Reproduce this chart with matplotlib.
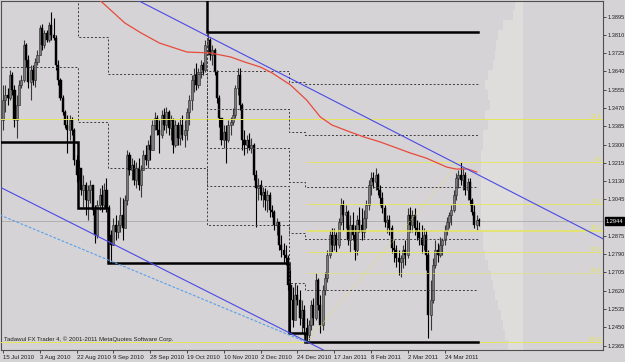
import matplotlib
matplotlib.use("Agg")
import matplotlib.pyplot as plt
import numpy as np
from matplotlib.transforms import blended_transform_factory

# ---------------- data (daily bars, price) ----------------
opens = [1.3414,1.3507,1.3530,1.3516,1.3623,1.3554,1.3414,1.3484,1.3577,1.3600,
         1.3763,1.3693,1.3591,1.3647,1.3600,1.3684,1.3716,1.3842,1.3763,1.3819,
         1.3786,1.3856,1.3809,1.3795,1.3670,1.3600,1.3516,1.3451,1.3391,1.3368,
         1.3414,1.3368,1.3228,1.3158,1.3191,1.3089,1.3112,1.3042,1.3089,1.3112,
         1.2996,1.2879,1.3019,1.3065,1.3019,1.3089,1.3005,1.2879,1.2833,1.2926,
         1.2893,1.2926,1.2972,1.2912,1.3042,1.3251,1.3182,1.3205,1.3135,1.3191,
         1.3112,1.3182,1.3251,1.3228,1.3298,1.3275,1.3391,1.3423,1.3368,1.3344,
         1.3437,1.3391,1.3451,1.3377,1.3414,1.3298,1.3391,1.3330,1.3391,1.3344,
         1.3368,1.3451,1.3507,1.3600,1.3623,1.3577,1.3637,1.3670,1.3647,1.3763,
         1.3786,1.3716,1.3740,1.3637,1.3516,1.3423,1.3321,1.3358,1.3321,1.3391,
         1.3405,1.3437,1.3563,1.3623,1.3484,1.3321,1.3298,1.3321,1.3284,1.3298,
         1.3158,1.3098,1.3112,1.3065,1.3079,1.3042,1.3065,1.2996,1.2986,1.2926,
         1.2940,1.2833,1.2810,1.2786,1.2772,1.2647,1.2577,1.2484,1.2600,1.2577,
         1.2493,1.2531,1.2447,1.2414,1.2461,1.2554,1.2493,1.2670,1.2554,1.2461,
         1.2624,1.2679,1.2786,1.2879,1.2833,1.2879,1.2833,1.2940,1.3019,1.2972,
         1.2986,1.2856,1.2926,1.2879,1.2810,1.2949,1.2926,1.2893,1.2958,1.3019,
         1.3112,1.3144,1.3126,1.3158,1.3089,1.3051,1.3005,1.2940,1.2949,1.2912,
         1.2819,1.2810,1.2772,1.2754,1.2772,1.2810,1.2786,1.2972,1.2926,1.2972,
         1.2912,1.2893,1.2865,1.2833,1.2879,1.2786,1.2507,1.2577,1.2740,1.2810,
         1.2786,1.2833,1.2856,1.2903,1.2940,1.2972,1.2996,1.3065,1.3144,1.3158,
         1.3135,1.3158,1.3089,1.3126,1.3042,1.2986,1.2926,1.2949]
highs = [1.3577,1.3577,1.3563,1.3647,1.3637,1.3577,1.3530,1.3600,1.3623,1.3786,
         1.3772,1.3716,1.3670,1.3670,1.3702,1.3740,1.3856,1.3860,1.3832,1.3832,
         1.3870,1.3916,1.3888,1.3809,1.3693,1.3609,1.3530,1.3461,1.3437,1.3437,
         1.3428,1.3377,1.3251,1.3228,1.3191,1.3158,1.3126,1.3112,1.3135,1.3112,
         1.3019,1.3042,1.3098,1.3112,1.3121,1.3144,1.3019,1.2903,1.2958,1.2972,
         1.2949,1.3056,1.3051,1.3065,1.3275,1.3265,1.3237,1.3228,1.3219,1.3237,
         1.3205,1.3275,1.3298,1.3321,1.3344,1.3414,1.3451,1.3437,1.3414,1.3461,
         1.3470,1.3474,1.3461,1.3437,1.3423,1.3414,1.3405,1.3423,1.3437,1.3414,
         1.3470,1.3530,1.3623,1.3656,1.3679,1.3656,1.3693,1.3684,1.3786,1.3819,
         1.3795,1.3763,1.3749,1.3647,1.3530,1.3423,1.3391,1.3391,1.3414,1.3428,
         1.3470,1.3577,1.3656,1.3656,1.3493,1.3368,1.3344,1.3354,1.3330,1.3307,
         1.3182,1.3144,1.3135,1.3102,1.3098,1.3089,1.3079,1.3019,1.2996,1.2958,
         1.2940,1.2879,1.2842,1.2833,1.2786,1.2717,1.2637,1.2656,1.2647,1.2624,
         1.2577,1.2554,1.2493,1.2484,1.2577,1.2586,1.2703,1.2679,1.2600,1.2647,
         1.2707,1.2810,1.2903,1.2912,1.2912,1.2893,1.2958,1.3051,1.3042,1.3019,
         1.2996,1.2972,1.2986,1.2926,1.2972,1.3009,1.3005,1.2996,1.3042,1.3135,
         1.3172,1.3172,1.3191,1.3168,1.3112,1.3079,1.3019,1.2972,1.2972,1.2926,
         1.2856,1.2833,1.2810,1.2786,1.2833,1.2856,1.3005,1.3009,1.2996,1.3005,
         1.2949,1.2940,1.2926,1.2912,1.2903,1.2810,1.2670,1.2772,1.2856,1.2842,
         1.2870,1.2865,1.2926,1.2963,1.2986,1.3019,1.3089,1.3168,1.3182,1.3219,
         1.3191,1.3172,1.3144,1.3144,1.3051,1.3019,1.2972,1.2958]
lows = [1.3368,1.3451,1.3484,1.3507,1.3530,1.3381,1.3330,1.3484,1.3563,1.3591,
        1.3660,1.3563,1.3507,1.3577,1.3567,1.3670,1.3716,1.3740,1.3749,1.3777,
        1.3777,1.3786,1.3786,1.3647,1.3577,1.3507,1.3437,1.3377,1.3261,1.3321,
        1.3344,1.3205,1.3126,1.3135,1.3065,1.3009,1.2972,1.2949,1.3028,1.2972,
        1.2842,1.2865,1.2996,1.2986,1.3009,1.2986,1.2856,1.2749,1.2833,1.2856,
        1.2865,1.2893,1.2856,1.2926,1.3019,1.3158,1.3135,1.3112,1.3098,1.3089,
        1.3056,1.3182,1.3205,1.3191,1.3228,1.3275,1.3368,1.3344,1.3261,1.3330,
        1.3368,1.3354,1.3344,1.3321,1.3261,1.3288,1.3298,1.3298,1.3321,1.3288,
        1.3321,1.3391,1.3461,1.3544,1.3554,1.3563,1.3609,1.3623,1.3637,1.3716,
        1.3693,1.3670,1.3623,1.3493,1.3381,1.3298,1.3284,1.3214,1.3312,1.3344,
        1.3391,1.3423,1.3530,1.3461,1.3275,1.3251,1.3261,1.3275,1.3261,1.3135,
        1.2916,1.3042,1.3042,1.3009,1.2996,1.2986,1.2963,1.2963,1.2903,1.2879,
        1.2810,1.2777,1.2754,1.2740,1.2624,1.2424,1.2451,1.2507,1.2554,1.2461,
        1.2424,1.2414,1.2382,1.2391,1.2437,1.2461,1.2484,1.2531,1.2424,1.2437,
        1.2600,1.2661,1.2772,1.2800,1.2810,1.2800,1.2819,1.2926,1.2903,1.2912,
        1.2833,1.2800,1.2856,1.2763,1.2786,1.2893,1.2856,1.2865,1.2912,1.2996,
        1.3065,1.3098,1.3089,1.3065,1.3019,1.2982,1.2916,1.2889,1.2879,1.2796,
        1.2754,1.2730,1.2693,1.2684,1.2726,1.2740,1.2772,1.2893,1.2893,1.2879,
        1.2856,1.2833,1.2796,1.2810,1.2717,1.2400,1.2437,1.2563,1.2726,1.2754,
        1.2777,1.2786,1.2833,1.2879,1.2912,1.2926,1.2986,1.3042,1.3098,1.3112,
        1.3089,1.3065,1.3042,1.3019,1.2972,1.2912,1.2903,1.2921]
closes = [1.3507,1.3530,1.3516,1.3623,1.3554,1.3414,1.3484,1.3577,1.3600,1.3763,
          1.3693,1.3591,1.3647,1.3600,1.3684,1.3716,1.3842,1.3763,1.3819,1.3786,
          1.3856,1.3809,1.3795,1.3670,1.3600,1.3516,1.3451,1.3391,1.3368,1.3414,
          1.3368,1.3228,1.3158,1.3191,1.3089,1.3112,1.3042,1.3089,1.3112,1.2996,
          1.2879,1.3019,1.3065,1.3019,1.3089,1.3005,1.2879,1.2833,1.2926,1.2893,
          1.2926,1.2972,1.2912,1.3042,1.3251,1.3182,1.3205,1.3135,1.3191,1.3112,
          1.3182,1.3251,1.3228,1.3298,1.3275,1.3391,1.3423,1.3368,1.3344,1.3437,
          1.3391,1.3451,1.3377,1.3414,1.3298,1.3391,1.3330,1.3391,1.3344,1.3368,
          1.3451,1.3507,1.3600,1.3623,1.3577,1.3637,1.3670,1.3647,1.3763,1.3786,
          1.3716,1.3740,1.3637,1.3516,1.3423,1.3321,1.3358,1.3321,1.3391,1.3405,
          1.3437,1.3563,1.3623,1.3484,1.3321,1.3298,1.3321,1.3284,1.3298,1.3158,
          1.3098,1.3112,1.3065,1.3079,1.3042,1.3065,1.2996,1.2986,1.2926,1.2940,
          1.2833,1.2810,1.2786,1.2772,1.2647,1.2577,1.2484,1.2600,1.2577,1.2493,
          1.2531,1.2447,1.2414,1.2461,1.2554,1.2493,1.2670,1.2554,1.2461,1.2624,
          1.2679,1.2786,1.2879,1.2833,1.2879,1.2833,1.2940,1.3019,1.2972,1.2986,
          1.2856,1.2926,1.2879,1.2810,1.2949,1.2926,1.2893,1.2958,1.3019,1.3112,
          1.3144,1.3126,1.3158,1.3089,1.3051,1.3005,1.2940,1.2949,1.2912,1.2819,
          1.2810,1.2772,1.2754,1.2772,1.2810,1.2786,1.2972,1.2926,1.2972,1.2912,
          1.2893,1.2865,1.2833,1.2879,1.2786,1.2507,1.2577,1.2740,1.2810,1.2786,
          1.2833,1.2856,1.2903,1.2940,1.2972,1.2996,1.3065,1.3144,1.3158,1.3135,
          1.3158,1.3089,1.3126,1.3042,1.2986,1.2926,1.2949,1.2944]

date_ticks = [0, 16, 32, 48, 64, 80, 96, 112, 128, 144, 160, 176, 192]
date_labels = ["15 Jul 2010", "3 Aug 2010", "22 Aug 2010", "9 Sep 2010",
               "28 Sep 2010", "19 Oct 2010", "10 Nov 2010", "2 Dec 2010",
               "24 Dec 2010", "17 Jan 2011", "8 Feb 2011", "2 Mar 2011",
               "24 Mar 2011"]
price_ticks = [1.2365, 1.2450, 1.2535, 1.2620, 1.2705, 1.2790, 1.2875,
               1.3045, 1.3130, 1.3215, 1.3300, 1.3385, 1.3470, 1.3555,
               1.3640, 1.3725, 1.3810, 1.3895]

# moving average (sampled)
ma_bars = [42, 53, 60, 68, 80, 90, 99, 105, 112, 117, 125, 132, 138, 143,
           151, 157, 164, 177, 184, 193, 197, 202, 206]
ma_values = [1.3972, 1.3865, 1.3819, 1.3772, 1.3730, 1.3726, 1.3707, 1.3684,
             1.3660, 1.3633, 1.3577, 1.3507, 1.3428, 1.3391, 1.3358, 1.3335,
             1.3312, 1.3261, 1.3237, 1.3195, 1.3186, 1.3186, 1.3172]

# price channel (lowest low / highest high) segments
chan_bounds = [-1, 32.5, 45.5, 88.5, 124.5, 131.5, 206.5]
chan_low = [1.3312, 1.3005, 1.2749, 1.2749, 1.2424, 1.2382]
chan_high = [1.5390, 1.5390, 1.5390, 1.3823, 1.3823, 1.3823]

# trend lines (bar, price) anchors
upper_trend = [(76.96, 1.3870), (207.4, 1.3155)]
lower_trend = [(-1.3, 1.3102), (103.04, 1.2540)]
dash_trend = [(-1.3, 1.2972), (132.2, 1.2380)]

# fibonacci
fib_low_bar = 132
fib_high_bar = 199
fib_levels = [0.0, 23.6, 38.2, 50.0, 61.8]
fib_full_levels = [-23.6, 100.0]
fib_full_labels = ["23.6", "100.0"]

# volume profile (price bin centre, relative volume)
prof_prices = [1.3949, 1.3902, 1.3856, 1.3809, 1.3763, 1.3716, 1.3670, 1.3623,
               1.3577, 1.3530, 1.3484, 1.3437, 1.3391, 1.3344, 1.3298, 1.3251,
               1.3205, 1.3158, 1.3112, 1.3065, 1.3019, 1.2972, 1.2926, 1.2879,
               1.2833, 1.2786, 1.2740, 1.2693, 1.2647, 1.2600, 1.2554, 1.2507,
               1.2461, 1.2414, 1.2368]
prof_volume = [8, 10, 20, 25, 27, 28, 30, 35, 38, 35, 33, 38, 35, 40, 40, 42,
               42, 42, 42, 42, 42, 42, 42, 40, 40, 38, 35, 32, 30, 28, 25, 22,
               20, 18, 15]

# ---------------- figure ----------------
BG = "#d5d3d5"
fig = plt.figure(figsize=(6.25, 3.62), dpi=100, facecolor=BG)
ax = fig.add_axes([1 / 625, 12 / 362, 602 / 625, 349 / 362], facecolor=BG)
ax.set_xlim(-0.87, 260.9)
ax.set_ylim(1.23445, 1.39674)

FONT = "Liberation Sans"

# volume profile
prof_anchor = 226.0
prof_scale = 1 / 2.3
ph = 0.00465
for p, v in zip(prof_prices, prof_volume):
    w = v * prof_scale
    ax.add_patch(plt.Rectangle((prof_anchor - w, p - ph / 2), w, ph,
                               facecolor="#dedddc", edgecolor="none", zorder=1))

# candles
o = np.array(opens); h = np.array(highs); l = np.array(lows); c = np.array(closes)
x = np.arange(len(c))
up = c >= o
ax.vlines(x[up], l[up], h[up], color="#383838", lw=0.8, zorder=2)
ax.vlines(x[~up], l[~up], h[~up], color="#000000", lw=0.8, zorder=2)
ax.bar(x[up], np.maximum(c[up] - o[up], 0.0003), bottom=o[up], width=0.9,
       color="#7c7c7c", edgecolor="#262626", linewidth=0.4, zorder=2)
ax.bar(x[~up], o[~up] - c[~up], bottom=c[~up], width=0.9,
       color="#000000", edgecolor="#000000", linewidth=0.3, zorder=2)

# bid line
ax.axhline(closes[-1], color="#ababab", lw=0.6, zorder=1.5)

# fibonacci
fhi = highs[fib_high_bar]
flo = lows[fib_low_bar]
YEL = "#e6e65a"
for lv in fib_levels:
    p = fhi - lv / 100 * (fhi - flo)
    ls = (0, (2, 1.5)) if lv == 61.8 else "-"
    lw = 1.1 if lv == 38.2 else 0.6
    ax.plot([fib_low_bar, 262], [p, p], color=YEL, lw=lw, ls=ls, zorder=3)
    ax.text(260.3, p + 0.0002, f"{lv:.1f}", color=YEL, fontsize=4.0,
            family=FONT, ha="right", va="bottom", zorder=6)
for lv, lab in zip(fib_full_levels, fib_full_labels):
    p = fhi - lv / 100 * (fhi - flo)
    ax.axhline(p, color=YEL, lw=0.7, zorder=3)
    ax.text(260.3, p + 0.0002, lab, color=YEL, fontsize=4.0,
            family=FONT, ha="right", va="bottom", zorder=6)
ax.plot([fib_low_bar, fib_high_bar], [flo, fhi], color=YEL, lw=0.6,
        ls=(0, (1, 1.5)), zorder=3)

# price channel steps
for k in range(7):
    xs, ys = [], []
    for j in range(len(chan_low)):
        v = chan_low[j] + k * (chan_high[j] - chan_low[j]) / 6
        xs += [chan_bounds[j], chan_bounds[j + 1]]
        ys += [v, v]
    if k in (0, 6):
        ax.plot(xs, ys, color="#000000", lw=1.8, zorder=4,
                solid_joinstyle="miter")
    else:
        ax.plot(xs, ys, color="#3c3c3c", lw=0.7, ls=(0, (2, 2)), zorder=4)

# moving average
ax.plot(ma_bars, ma_values, color="#e84a3c", lw=0.9, zorder=4)

# trend lines
ax.axline(upper_trend[0], upper_trend[1], color="#4a4ae6", lw=0.8, zorder=4)
ax.axline(lower_trend[0], lower_trend[1], color="#4a4ae6", lw=0.8, zorder=4)
ax.plot([dash_trend[0][0], dash_trend[1][0]], [dash_trend[0][1], dash_trend[1][1]],
        color="#5aa0ec", lw=0.8, ls=(0, (2.5, 1.5)), zorder=4)

# copyright text
ax.text(3 / 602, 11 / 349, "Tadawul FX Trader 4, \u00a9 2001-2011 MetaQuotes Software Corp.",
        transform=ax.transAxes, fontsize=4.3, family=FONT, color="#202020",
        ha="left", va="center", zorder=6)

# axes styling
for s in ax.spines.values():
    s.set_color("#505050")
    s.set_linewidth(0.8)
ax.yaxis.tick_right()
ax.set_yticks(price_ticks)
ax.set_yticklabels([f"{p:.4f}" for p in price_ticks])
ax.set_xticks(date_ticks)
ax.set_xticklabels(date_labels)
ax.tick_params(axis="y", length=2.2, width=0.6, color="#303030", pad=0.8,
               labelsize=4.1, labelcolor="#202020")
ax.tick_params(axis="x", length=2, width=0.6, color="#303030", pad=1.5,
               labelsize=4.3, labelcolor="#202020")
for t in ax.get_xticklabels() + ax.get_yticklabels():
    t.set_fontfamily(FONT)
for t in ax.get_xticklabels():
    t.set_ha("left")

# current price box
tr = blended_transform_factory(ax.transAxes, ax.transData)
ax.text(1.0045, closes[-1], f"{closes[-1]:.4f}", transform=tr, fontsize=4.1,
        family=FONT, color="white", ha="left", va="center", zorder=10,
        bbox=dict(boxstyle="square,pad=0.2", facecolor="black", edgecolor="black"),
        clip_on=False)

fig.savefig("out.png", dpi=100, facecolor=BG)
